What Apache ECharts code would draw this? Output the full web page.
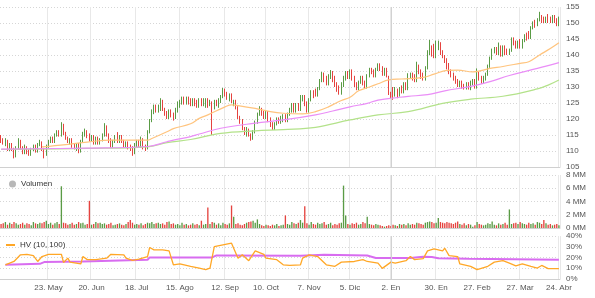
<!DOCTYPE html>
<html>
<head>
<meta charset="utf-8">
<script src="https://cdn.jsdelivr.net/npm/echarts@6/dist/echarts.min.js"></script>
<style>html,body{margin:0;padding:0;background:#fff}#c{width:595px;height:298px}</style>
</head>
<body>
<div id="c"></div>
<script>
// Trading-day categories (index of each session)
const dayCount = 260;
const days = Array.from({length: dayCount}, (_, i) => String(i));
// X tick labels and the sessions they sit on
const tickLabels = ['23. May','20. Jun','18. Jul','15. Ago','12. Sep','10. Oct','7. Nov','5. Dic','2. En','30. En','27. Feb','27. Mar','24. Abr'];
const tickIndex  = [22, 42, 63, 83, 104, 123, 143, 162, 181, 202, 221, 241, 259];
const yearBreakIndex = 181;
// Daily prices: [open, close, low, high]
const prices = [
[114.5,113,112.5,115],[113.5,112.5,112,114],[112,113.5,111.5,114],[113,110.5,110,113.5],[110.5,112,110,112.5],
[112,110.5,110,112.5],[110.5,108.5,107.7,111],[108.5,111,108,111.5],[111,113,110.5,114],[113,111,110.5,113.5],
[111,109.5,109,111.5],[109.5,111.5,109,112],[111,109.5,109,111.5],[110,109,108.5,110.5],[109,110.5,108.5,111],
[110.5,111.5,110,112],[111.5,110,109.5,112],[110,112,109.5,112.5],[112,113,111.5,113.5],[112.5,110.5,110,113],
[110.5,109,107.7,111],[109,111.5,108.5,112],[111.5,113,111,113.5],[113,114,112.5,114.5],[114,113,112.5,114.5],
[113,115,112.5,115.5],[115,116,114.5,116.5],[116,115,114.5,116.5],[115,118,114.5,119],[118,115.5,115,118.5],
[115.5,114,113.5,116],[114,113,112.5,114.5],[112.5,113.5,112,114],[113.5,111.5,111,114],[112,111,110.5,112.5],
[110.5,112,110,112.5],[112,110,109.3,112.5],[110,113,109.5,113.5],[113,115.5,112.5,116],[115,116.5,114.5,117],
[116,114.5,114,116.5],[115,113.5,113,115.5],[113.5,114.5,113,115],[114.5,112.5,112,115],[112.5,114,112,114.5],
[114,112.5,112,114.5],[112.5,113.5,112,114],[113.5,115,113,115.5],[115,117.5,114.5,118.7],[117.5,115,114.5,118],
[115,113,112.5,115.5],[113.5,111.5,111,114],[111.5,113,111,113.5],[113,114.5,112.5,115],[115,113,112.5,115.9],
[113,114.5,112.5,115],[114.5,113,112.5,115],[113,111.5,111,113.5],[111.5,112.5,111,113],[112.5,111,110.5,113],
[111.5,110.5,110,112],[111,109.5,108.5,111.5],[109.5,112,109,112.5],[111.5,113,111,113.5],[113,111.5,111,113.5],
[111.5,114,111,114.5],[113.5,111,110.5,114],[111.5,110.5,110,112],[111,116,110.5,116.5],[116,119.5,115.5,120],
[119.5,122.5,119,123],[122,124,121.5,124.5],[124,122.5,122,124.5],[122.5,124,122,124.5],[123,125.5,122.5,126.5],
[125.5,123,122.5,126],[123,121.5,121,123.5],[122,120.5,120,122.5],[120.5,122.5,120,123],[122.5,121,120.5,123],
[121.5,120,119.5,122],[120.5,123,120,123.5],[122.5,125,122,125.5],[124,125.5,123.5,126],[125,126.5,124.5,127],
[126.5,125,124.5,127],[125,126.5,124.5,127],[126.5,125,124.5,127],[126,124.5,124,126.5],[124.5,126,124,126.5],
[126,124.5,124,126.5],[125.5,124,123.5,126],[124,126,123.5,126.5],[126,124.5,124,126.5],[124.5,126,124,126.5],
[124,126,123.5,126.5],[126,124,123.5,126.5],[124.5,125.5,124,126],[124.5,123.5,115,125.5],[123.5,125.5,123,126],
[125.5,124.5,124,126],[124,126,123.5,126.5],[125.5,127,125,127.5],[127,128.5,126.5,129.7],[129,127.5,127,129.5],
[128,126.5,126,128.5],[126,127.5,125.5,128],[127.5,125.5,125,128],[124.5,125.5,124,126],[125.5,123.5,123,126],
[123.5,120.5,120,124],[120.5,119,118.5,121],[119.5,117,116.5,120],[117,115.5,115,117.5],[115,117,114.5,117.5],
[116.5,115,114.5,117],[115,113.8,113.2,115.5],[114,116,113.5,116.5],[116,119,115.5,119.5],[119,121.5,118.5,122],
[121.5,123.5,121,124],[123,121.5,121,123.5],[122,120.5,120,122.5],[120.5,122,120,122.5],[122,119.5,119,122.5],
[120,118,117.5,120.5],[118.5,117,116.6,119],[117,118.5,116.6,119],[118.5,120,118,120.5],[120,119,118.5,120.5],
[119,120.5,118.5,121],[119.5,121,119,121.5],[121,119.5,119,121.5],[119.5,121.5,119,122],[121.5,123,121,123.5],
[122.5,124.5,122,125],[124.5,122.5,122,125],[122.5,124.5,122,125],[124.5,123,122.5,125],[123,126.5,122.5,127.5],
[126,127,125.5,127.5],[127,124.5,124,127.5],[125,122.5,122,125.5],[122.5,126,122,126.5],[126,128.5,125.5,129],
[128.5,127,126.5,129],[129,127.5,127,129.5],[127.5,129.5,127,130],[129.5,132,129,132.5],[132,134,131.5,134.7],
[134,132,131.5,134.5],[133,131,130.5,133.5],[131,133.5,130.5,134],[133,135,132.5,135.3],[134.5,132,131.5,135],
[133,130.5,130,133.5],[131,129,128.5,131.5],[130,128,127.6,130.5],[128,131,127.6,131.5],[130.5,133,130,133.5],
[132.5,134.5,132,135],[134.5,133,132.5,135],[133,135,132.5,135.5],[135,132.5,132,135.5],[133,130.5,130,133.5],
[131,129.5,129,131.5],[129.5,131.5,129,132],[131.5,133,131,133.5],[133,131,130.5,133.5],[131.5,130,129.5,132],
[130,133.5,129.5,134],[133.5,135.5,133,136],[135.5,134.5,134,136],[135,133.5,133,135.5],[133.5,135.5,133,136],
[135.5,137,135,137.4],[137,135.5,135,137.4],[136,134,133.5,136.5],[134,135.5,133.5,136],[135.5,133.5,133,136],
[133,128,127.5,133.5],[128,126.8,126.3,128.5],[129.5,127.5,126,130],[127.5,129.5,127,130],[129,127.5,126.5,129.5],
[127.5,129.5,127,130],[130,128.5,128,130.5],[128.5,131,128,131.5],[131,129.5,129,131.5],[129.5,133.5,129,134.3],
[133,134,132.5,134.5],[134,132.5,132,134.5],[133.5,132,131.5,134],[132,137,131.5,137.9],[136.5,134.5,134,137],
[135,133,132.5,135.5],[134,132.5,132,134.5],[132.5,136,132,136.5],[136,141,135.5,141.5],[140.5,143,140,144.7],
[142.5,140,139.5,143],[143,139.5,139,143.5],[139.5,143.5,139,144.5],[142,144,141.5,144.5],[143.5,140.5,140,144],
[141,139.5,139,141.5],[139.5,138,137.5,140],[138.5,136,135.5,139],[137,134.5,134,137.5],[135,133.5,133,135.5],
[134,132.5,132,134.5],[133,131.5,131,133.5],[132,130.5,130,132.5],[130.5,131.5,130,132],[131.5,130,129.5,132],
[130.5,129.5,129.2,131],[129.5,131,129.2,131.5],[131,129.5,129.2,131.5],[129.5,131.5,129,132],[131,132,130.5,132.5],
[132,130.5,129.5,132.5],[130.5,135,129.5,135.8],[134.5,132.5,132,135],[133,131.5,131,133.5],[131.5,133,131,133.5],
[132.5,134,132,134.5],[134,136.5,133.5,137],[136.5,139,136,139.5],[139,141.5,138.5,142],[141,142,140.5,142.5],
[142,140.5,140,142.5],[140.5,143,140,143.9],[142.5,140,139.5,143],[140,142.5,139.5,143],[142.5,140.5,140,143],
[141.5,140.5,140,142],[140.5,141.5,140,142],[141.5,145,141,145.5],[145,143.5,143,145.5],[144,142.5,142,144.5],
[142.5,144,142,144.5],[144.5,142.5,142,145],[142.5,144.5,142,145],[144.5,146,144,146.5],[146.5,145,144.5,147],
[147,145.5,145,147.5],[145.5,148.5,145,149],[148.5,150,148,150.5],[150.5,149,148.5,151],[149.5,151,149,151.5],
[151,152.5,150.5,153.5],[152,150.5,150,152.5],[151.5,150.5,150,152],[150.5,151.5,150,152],[152.5,150.5,150,152.8],
[151.5,150.5,150,152],[150.5,152,150,152.5],[152,150.5,150,152.5],[151,149.5,149,151.5],[149.5,151.5,149,152]
];
// Daily volume, millions
const volumes = [
0.6,0.7,0.9,0.5,0.8,0.6,0.9,0.7,0.5,0.6, 0.8,0.5,0.7,0.6,0.4,0.9,0.7,0.6,0.8,0.7,
0.9,1.1,0.6,0.8,0.5,0.7,0.9,0.6,6.3,0.8, 0.7,0.5,0.6,0.8,0.5,0.6,0.9,0.7,0.8,0.5,
0.6,4.1,0.5,0.6,0.9,0.7,0.8,0.6,0.7,0.5, 0.6,0.8,0.4,0.5,0.6,0.7,0.5,0.4,0.6,0.9,
1.2,0.8,0.5,0.6,0.5,0.7,0.4,0.6,0.8,0.7, 0.9,0.6,0.7,0.8,0.6,0.7,0.5,0.9,1.0,0.6,
0.7,0.5,0.6,0.4,0.8,0.5,0.6,0.4,0.5,0.7, 0.5,0.6,0.4,1.1,0.5,0.6,3.1,0.6,0.9,0.8,
0.5,0.7,0.4,0.8,0.6,0.5,0.7,3.4,1.7,0.6, 0.7,0.5,0.4,0.6,0.8,0.9,1.0,1.1,0.8,1.3,
0.6,0.4,0.3,0.5,0.4,0.3,0.5,0.4,0.6,0.3, 0.4,0.5,1.9,0.6,0.5,0.9,0.7,0.6,0.8,1.2,
0.8,3.3,0.7,0.5,0.9,0.6,0.5,0.8,0.6,0.7, 0.9,0.5,0.6,0.8,0.4,0.6,0.5,0.7,0.8,6.4,
1.9,0.6,0.5,0.7,0.6,0.8,0.5,0.6,0.9,0.7, 1.7,0.6,0.5,0.4,0.6,0.5,0.4,0.3,0.2,0.3,
0.4,0.3,0.5,0.4,0.3,0.6,0.5,0.6,0.4,0.7, 0.5,0.6,0.5,0.8,0.7,0.6,0.5,0.8,0.9,1.0,
0.9,0.7,0.8,1.5,0.9,0.8,0.7,0.9,0.8,0.7, 0.6,0.8,1.0,0.6,0.5,0.7,0.4,0.6,0.5,0.2,
0.4,0.9,0.6,0.5,0.4,0.5,0.7,0.6,1.0,0.5, 0.4,0.7,0.5,0.6,0.8,0.5,2.8,0.6,0.7,0.8,
0.6,0.9,0.7,0.6,0.5,0.8,0.6,0.7,0.5,0.9, 0.8,0.6,1.2,0.7,0.5,0.6,0.4,0.5,0.6,0.4
];
// Moving averages: [session index, price]
const maOrange = [[19,111.3],[30,112],[40,112.8],[51,113.4],[68,113.4],[70,113.9],[77,116],[80,117],[88,118.5],[92,120.2],[96,121.3],[104,123.8],[107,124.4],[110,124.2],[118,123.3],[125,122.3],[131,121.8],[140,121.6],[146,122.3],[152,123.8],[158,125.8],[162,126.8],[166,128.8],[171,130],[175,131],[180,132.2],[186,132.5],[196,133],[201,134],[207,135.2],[212,135.3],[219,134.7],[227,135.8],[233,136.4],[241,137.4],[245,137.9],[250,140],[255,142],[259,143.8]];
const maPurple = [[0,110.6],[40,110.9],[68,111.4],[77,112.9],[80,113.4],[88,114.5],[92,115.3],[102,117.1],[118,118.7],[131,119.7],[146,121.3],[154,122.5],[162,123.8],[170,124.9],[175,125.9],[185,126.8],[189,127.1],[198,127.6],[206,128.8],[218,130.2],[227,131.7],[236,133.6],[249,135.8],[259,137.6]];
const maGreen = [[0,110.5],[40,110.8],[68,111.3],[77,112.6],[88,113.6],[102,115.5],[118,116.3],[131,116.7],[146,117.4],[162,119.7],[175,121.3],[189,122.3],[205,124.9],[218,126.2],[233,127.1],[249,129.4],[254,130.6],[259,132.2]];
// Historical volatility, percent: [session index, value]
const hv = [[2,13.2],[6,16.3],[9,22.5],[12,22.9],[15,21.7],[17,16.3],[19,20.9],[22,23],[28,23],[29,15.4],[31,19.4],[32,15.7],[37,14],[38,20.9],[40,18],[44,18],[49,19.4],[51,23],[57,22.5],[58,19.4],[61,17.3],[64,18.4],[68,20.9],[69,29.3],[71,27.1],[75,27.1],[78,26.2],[80,13.2],[83,14],[88,11.8],[92,10.2],[95,8.7],[97,10.2],[99,30.2],[103,31.8],[107,33.3],[110,19.4],[112,22.5],[115,17],[118,26.2],[122,23],[123,19.4],[128,18],[131,13.2],[134,12.6],[139,13.2],[140,19.4],[143,22.5],[147,20.9],[151,13.2],[155,11.8],[158,15.7],[164,16.3],[168,18],[170,16.3],[175,14.8],[177,9.9],[181,15.7],[183,14.8],[188,17],[190,20.9],[192,18],[196,18.9],[198,26.2],[201,28],[205,26.2],[206,28.6],[208,21.7],[212,20.9],[213,14],[218,11.8],[221,8.7],[226,11.8],[229,15.7],[233,17],[236,14.8],[239,12.3],[242,14],[246,11.8],[249,10.2],[251,12.6],[254,9.6],[259,9.6]];
const hvAvg = [[2,13.2],[18,14.1],[20,15.7],[38,16.3],[68,17.9],[69,20.1],[98,20.1],[100,21.9],[139,21.7],[150,22.5],[170,21.8],[174,19.6],[190,19.5],[196,20.6],[200,20.4],[203,19.4],[217,18.9],[259,18]];
// Axis ranges
const priceMin = 105, priceMax = 155, priceStep = 5;
const volMax = 8, volStep = 2;
const hvMax = 40, hvStep = 10;

const UP = '#5a9b45', DOWN = '#e5433f';
const FONT = 'Liberation Sans, Arial, sans-serif';
const isTick = (i) => tickIndex.indexOf(i) >= 0;

const chart = echarts.init(document.getElementById('c'), null, {renderer: 'canvas'});

function xAxisFor(g) {
  return {
    type: 'category', gridIndex: g, data: days, boundaryGap: true,
    axisLine: {show: true, lineStyle: {color: '#d0d0d0'}},
    axisTick: {show: false},
    axisLabel: {
      show: g === 2, interval: (i) => isTick(i), fontSize: 8, color: '#555', fontFamily: FONT, margin: 5,
      showMaxLabel: true, hideOverlap: false,
      formatter: (v, i) => { const k = tickIndex.indexOf(i); return k >= 0 ? tickLabels[k] : ''; }
    },
    splitLine: {show: true, interval: (i) => isTick(i), lineStyle: {color: '#e8e8e8', width: 1}}
  };
}
function yAxisFor(g, min, max, step, fmt) {
  return {
    type: 'value', gridIndex: g, position: 'right', min: min, max: max, interval: step,
    axisLine: {show: false}, axisTick: {show: false},
    axisLabel: {fontSize: 8, color: '#555', fontFamily: FONT, margin: 6, formatter: fmt},
    splitLine: {show: true, lineStyle: {color: '#d6d6d6', type: [1, 2]}}
  };
}
const yearLine = {
  silent: true, symbol: 'none', label: {show: false},
  lineStyle: {color: '#d2d2d2', type: 'solid', width: 1},
  data: [{xAxis: yearBreakIndex}]
};

const volData = volumes.map((v, i) => ({
  value: v,
  itemStyle: {color: prices[i][1] >= prices[i][0] ? UP : DOWN}
}));

chart.setOption({
  animation: false,
  textStyle: {fontFamily: FONT},
  grid: [
    {left: 0, right: 35, top: 7, height: 160},
    {left: 0, right: 35, top: 175, height: 53},
    {left: 0, right: 35, top: 236, height: 43}
  ],
  legend: [
    {selectedMode: false, left: 4, top: 175, itemWidth: 7, itemHeight: 7, itemGap: 4,
     textStyle: {fontSize: 8, color: '#333', fontFamily: FONT},
     data: [{name: 'Volumen', icon: 'circle', itemStyle: {color: '#b8b8b8'}}]},
    {selectedMode: false, left: 1, top: 236, itemWidth: 9, itemHeight: 2, itemGap: 4,
     textStyle: {fontSize: 8, color: '#333', fontFamily: FONT},
     data: [{name: 'HV (10, 100)', icon: 'rect', itemStyle: {color: '#ffa726'}}]}
  ],
  xAxis: [xAxisFor(0), xAxisFor(1), xAxisFor(2)],
  yAxis: [
    yAxisFor(0, priceMin, priceMax, priceStep, (v) => String(v)),
    yAxisFor(1, 0, volMax, volStep, (v) => v + ' MM'),
    yAxisFor(2, 0, hvMax, hvStep, (v) => v + '%')
  ],
  series: [
    {type: 'candlestick', name: 'Precio', xAxisIndex: 0, yAxisIndex: 0, data: prices, barWidth: '45%',
     itemStyle: {color: UP, color0: DOWN, borderColor: UP, borderColor0: DOWN, borderWidth: 1},
     markLine: yearLine},
    {type: 'line', xAxisIndex: 0, yAxisIndex: 0, data: maGreen, smooth: 0.4, showSymbol: false, silent: true,
     lineStyle: {color: '#b3e28a', width: 1.2}},
    {type: 'line', xAxisIndex: 0, yAxisIndex: 0, data: maPurple, smooth: 0.4, showSymbol: false, silent: true,
     lineStyle: {color: '#ea8ef7', width: 1.2}},
    {type: 'line', xAxisIndex: 0, yAxisIndex: 0, data: maOrange, smooth: 0.4, showSymbol: false, silent: true,
     lineStyle: {color: '#ffc47e', width: 1.2}},
    {type: 'bar', name: 'Volumen', xAxisIndex: 1, yAxisIndex: 1, data: volData, barWidth: '62%',
     itemStyle: {color: '#b8b8b8'}, markLine: yearLine},
    {type: 'line', name: 'HV avg', xAxisIndex: 2, yAxisIndex: 2, data: hvAvg, showSymbol: false, silent: true,
     lineStyle: {color: '#d86cf0', width: 2}, markLine: yearLine},
    {type: 'line', name: 'HV (10, 100)', xAxisIndex: 2, yAxisIndex: 2, data: hv, showSymbol: false, silent: true,
     lineStyle: {color: '#ffa726', width: 1.3}}
  ]
});
</script>
</body>
</html>
